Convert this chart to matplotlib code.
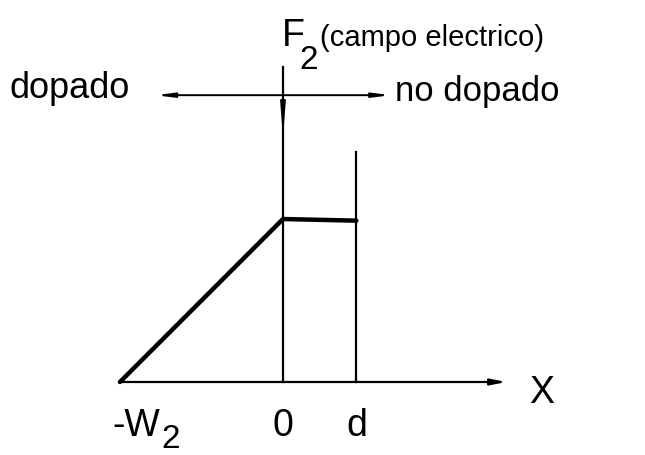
import matplotlib.pyplot as plt

# posiciones sobre el eje x: -W2, 0, d
pos_x = [-1.0, 0.0, 0.45]
# campo electrico F2 en cada posicion
campo = [0.0, 1.0, 0.99]
etiquetas_x = ["-W", "0", "d"]

plt.rcParams["font.family"] = ["Liberation Sans", "DejaVu Sans"]

fig = plt.figure(figsize=(6.45, 4.55), dpi=100)
ax = fig.add_axes([0, 0, 1, 1])
ax.set_xlim(-1.736, 2.221)
ax.set_ylim(-0.448, 2.344)
ax.axis("off")

negro = "black"

# eje x con flecha
ax.annotate("", xy=(1.37, 0.0), xytext=(pos_x[0], 0.0),
            arrowprops=dict(arrowstyle="-|>,head_length=0.9,head_width=0.18",
                            color=negro, lw=1.6, shrinkA=0, shrinkB=0))
ax.text(1.59, -0.07, "X", fontsize=27, ha="center", va="center")

# lineas verticales en 0 y d
ax.plot([pos_x[1], pos_x[1]], [0, 1.93], color=negro, lw=1.6)
ax.plot([pos_x[2], pos_x[2]], [0, 1.41], color=negro, lw=1.6)

# perfil del campo
ax.plot(pos_x, campo, color=negro, lw=3.2, solid_capstyle="round")

# flecha doble dopado / no dopado
y_flecha = 1.76
flecha = dict(arrowstyle="-|>,head_length=1.0,head_width=0.13",
              color=negro, lw=1.4, shrinkA=0, shrinkB=0)
ax.annotate("", xy=(-0.78, y_flecha), xytext=(0.0, y_flecha), arrowprops=flecha)
ax.annotate("", xy=(0.66, y_flecha), xytext=(0.0, y_flecha), arrowprops=flecha)
ax.annotate("", xy=(0.0, 1.50), xytext=(0.0, y_flecha),
            arrowprops=dict(arrowstyle="-|>,head_length=1.8,head_width=0.14",
                            color=negro, lw=1.4, shrinkA=0, shrinkB=0))

ax.text(-1.68, y_flecha + 0.04, "dopado", fontsize=26, ha="left", va="center")
ax.text(0.69, y_flecha + 0.02, "no dopado", fontsize=25, ha="left", va="center")

# titulo F2 (campo electrico)
ax.text(-0.005, 2.06, "F", fontsize=27, ha="left", va="baseline")
ax.text(0.10, 1.92, "2", fontsize=24, ha="left", va="baseline")
ax.text(0.225, 2.06, "(campo electrico)", fontsize=21, ha="left", va="baseline")

# etiquetas bajo el eje
ax.text(pos_x[0] + 0.245, -0.33, etiquetas_x[0], fontsize=27, ha="right", va="baseline")
ax.text(pos_x[0] + 0.255, -0.405, "2", fontsize=24, ha="left", va="baseline")
ax.text(pos_x[1], -0.33, etiquetas_x[1], fontsize=27, ha="center", va="baseline")
ax.text(pos_x[2], -0.33, etiquetas_x[2], fontsize=27, ha="center", va="baseline")

fig.savefig("out.png", dpi=100, facecolor="white")
